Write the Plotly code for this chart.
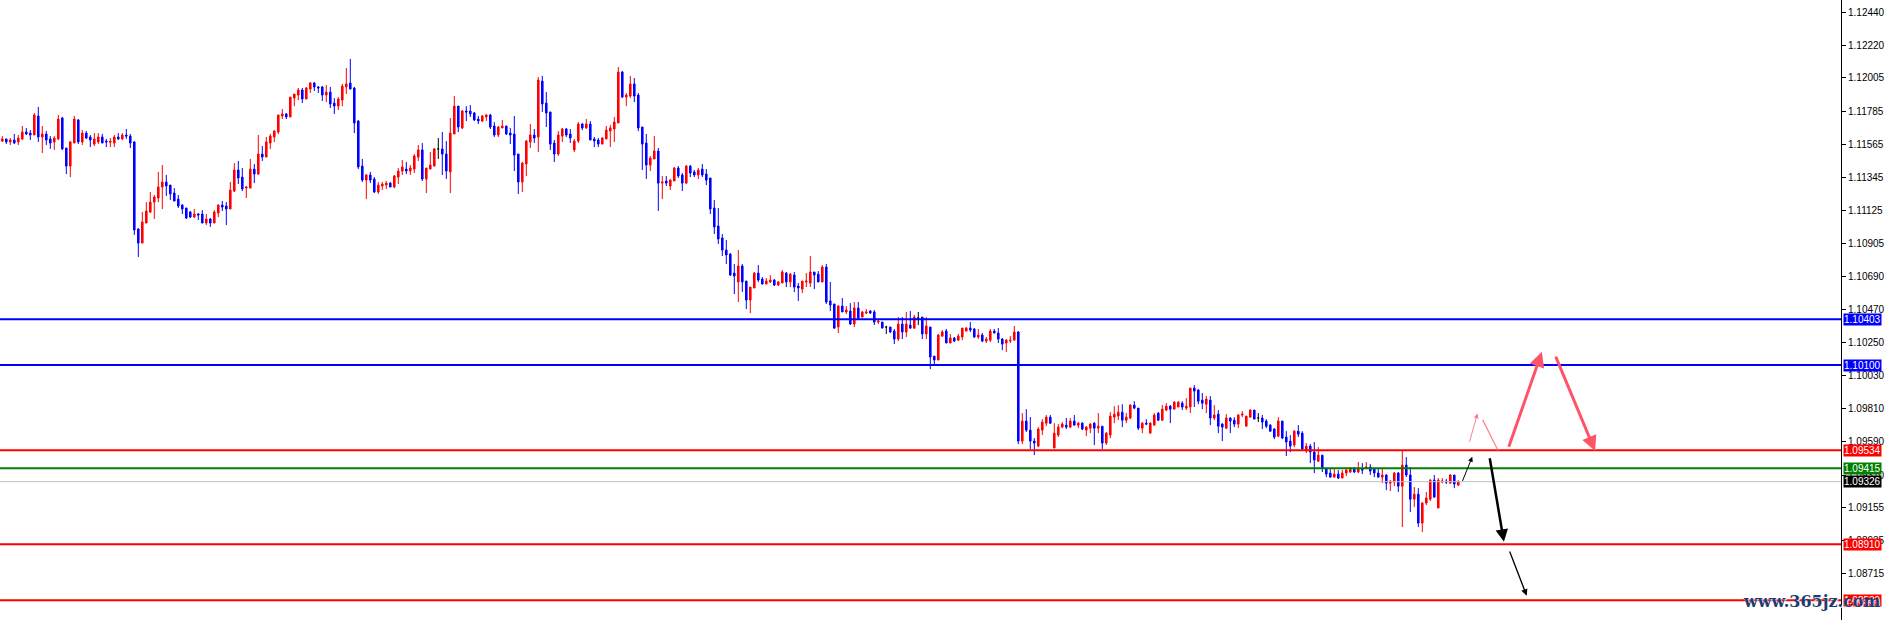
import plotly.graph_objects as go

# ---------------- data (EURUSD-like candles) ----------------
OPEN = [
1.11586,1.11600,1.11580,1.11593,1.11580,1.11600,1.11646,1.11639,1.11626,1.11752,
1.11613,1.11633,1.11600,1.11580,1.11600,1.11739,1.11540,1.11420,1.11573,1.11726,
1.11580,1.11639,1.11613,1.11566,1.11580,1.11613,1.11586,1.11578,1.11573,1.11613,
1.11600,1.11626,1.11619,1.11580,1.11002,1.10909,1.11042,1.11115,1.11181,1.11208,
1.11281,1.11314,1.11294,1.11241,1.11201,1.11161,1.11142,1.11115,1.11082,1.11102,
1.11102,1.11042,1.11069,1.11042,1.11108,1.11161,1.11155,1.11135,1.11254,1.11394,
1.11347,1.11274,1.11274,1.11400,1.11367,1.11500,1.11480,1.11573,1.11613,1.11646,
1.11752,1.11766,1.11746,1.11871,1.11891,1.11925,1.11865,1.11931,1.11971,1.11945,
1.11945,1.11891,1.11911,1.11838,1.11818,1.11858,1.11945,1.11971,1.11938,1.11719,
1.11420,1.11327,1.11361,1.11334,1.11248,1.11288,1.11294,1.11307,1.11281,1.11347,
1.11387,1.11400,1.11387,1.11400,1.11480,1.11527,1.11334,1.11400,1.11420,1.11534,
1.11534,1.11500,1.11381,1.11633,1.11818,1.11673,1.11785,1.11785,1.11772,1.11732,
1.11719,1.11746,1.11759,1.11686,1.11626,1.11673,1.11686,1.11639,1.11633,1.11500,
1.11314,1.11434,1.11580,1.11626,1.11613,1.11984,1.11838,1.11779,1.11573,1.11500,
1.11619,1.11666,1.11633,1.11527,1.11586,1.11699,1.11673,1.11699,1.11600,1.11593,
1.11566,1.11600,1.11652,1.11666,1.11706,1.12044,1.11878,1.11885,1.11965,1.11891,
1.11679,1.11573,1.11427,1.11467,1.11520,1.11307,1.11321,1.11288,1.11321,1.11407,
1.11361,1.11307,1.11420,1.11381,1.11361,1.11400,1.11367,1.11341,1.11142,1.11022,
1.10943,1.10863,1.10836,1.10710,1.10651,1.10757,1.10657,1.10531,1.10611,1.10710,
1.10670,1.10637,1.10651,1.10664,1.10631,1.10644,1.10710,1.10651,1.10697,1.10624,
1.10604,1.10651,1.10644,1.10717,1.10703,1.10651,1.10750,1.10525,1.10505,1.10352,
1.10491,1.10452,1.10458,1.10372,1.10478,1.10418,1.10445,1.10458,1.10452,1.10385,
1.10385,1.10352,1.10352,1.10325,1.10272,1.10372,1.10319,1.10365,1.10345,1.10412,
1.10418,1.10306,1.10352,1.10159,1.10133,1.10292,1.10325,1.10246,1.10279,1.10265,
1.10286,1.10325,1.10345,1.10339,1.10286,1.10299,1.10259,1.10265,1.10325,1.10312,
1.10272,1.10246,1.10259,1.10265,1.10319,1.09595,1.09728,1.09668,1.09595,1.09562,
1.09668,1.09714,1.09754,1.09549,1.09635,1.09688,1.09701,1.09688,1.09728,1.09701,
1.09714,1.09668,1.09681,1.09714,1.09681,1.09694,1.09582,1.09635,1.09754,1.09761,
1.09787,1.09734,1.09748,1.09834,1.09814,1.09681,1.09714,1.09648,1.09701,1.09781,
1.09734,1.09801,1.09827,1.09807,1.09821,1.09847,1.09814,1.09821,1.09947,1.09934,
1.09867,1.09840,1.09867,1.09748,1.09774,1.09708,1.09681,1.09748,1.09734,1.09708,
1.09768,1.09694,1.09754,1.09801,1.09748,1.09748,1.09728,1.09701,1.09675,1.09628,
1.09728,1.09622,1.09595,1.09569,1.09661,1.09648,1.09529,1.09562,1.09522,1.09462,
1.09502,1.09409,1.09383,1.09356,1.09376,1.09350,1.09383,1.09390,1.09409,1.09390,
1.09409,1.09416,1.09423,1.09409,1.09383,1.09356,1.09370,1.09316,1.09323,1.09383,
1.09296,1.09436,1.09370,1.09210,1.09243,1.09051,1.09184,1.09210,1.09336,1.09151,
1.09323,1.09330,1.09316,1.09370,1.09303,
]
HIGH = [
1.11619,1.11600,1.11606,1.11633,1.11626,1.11686,1.11673,1.11659,1.11772,1.11812,
1.11686,1.11652,1.11619,1.11619,1.11759,1.11746,1.11540,1.11586,1.11752,1.11732,
1.11659,1.11652,1.11626,1.11639,1.11639,1.11633,1.11600,1.11606,1.11626,1.11639,
1.11639,1.11666,1.11633,1.11586,1.11009,1.11115,1.11181,1.11248,1.11228,1.11381,
1.11427,1.11361,1.11294,1.11274,1.11228,1.11168,1.11142,1.11122,1.11135,1.11108,
1.11128,1.11102,1.11075,1.11128,1.11168,1.11188,1.11181,1.11314,1.11440,1.11454,
1.11407,1.11288,1.11467,1.11434,1.11626,1.11553,1.11613,1.11633,1.11659,1.11759,
1.11799,1.11772,1.11878,1.11898,1.11938,1.11938,1.11945,1.11978,1.11978,1.11951,
1.11951,1.11958,1.11945,1.11871,1.11878,1.11965,1.12071,1.12131,1.11945,1.11726,
1.11467,1.11367,1.11381,1.11347,1.11314,1.11314,1.11321,1.11314,1.11361,1.11407,
1.11460,1.11447,1.11427,1.11500,1.11560,1.11573,1.11407,1.11513,1.11540,1.11606,
1.11646,1.11586,1.11739,1.11885,1.11818,1.11792,1.11818,1.11825,1.11779,1.11752,
1.11759,1.11766,1.11766,1.11712,1.11686,1.11726,1.11686,1.11673,1.11752,1.11500,
1.11447,1.11593,1.11699,1.11666,1.12011,1.12018,1.11911,1.11779,1.11593,1.11652,
1.11673,1.11673,1.11666,1.11600,1.11712,1.11706,1.11732,1.11719,1.11613,1.11606,
1.11613,1.11686,1.11692,1.11746,1.12078,1.12051,1.11905,1.12018,1.12004,1.11905,
1.11679,1.11633,1.11487,1.11619,1.11540,1.11354,1.11354,1.11334,1.11414,1.11420,
1.11374,1.11427,1.11427,1.11394,1.11407,1.11434,1.11400,1.11341,1.11195,1.11142,
1.10969,1.10929,1.10843,1.10770,1.10863,1.10770,1.10657,1.10617,1.10717,1.10763,
1.10684,1.10677,1.10697,1.10670,1.10657,1.10730,1.10717,1.10710,1.10717,1.10644,
1.10657,1.10710,1.10823,1.10717,1.10723,1.10763,1.10770,1.10651,1.10505,1.10498,
1.10544,1.10491,1.10511,1.10518,1.10518,1.10458,1.10471,1.10465,1.10465,1.10405,
1.10385,1.10359,1.10352,1.10339,1.10418,1.10418,1.10452,1.10458,1.10432,1.10452,
1.10418,1.10418,1.10352,1.10159,1.10306,1.10332,1.10339,1.10306,1.10286,1.10306,
1.10345,1.10352,1.10385,1.10345,1.10339,1.10312,1.10286,1.10339,1.10339,1.10345,
1.10279,1.10272,1.10292,1.10359,1.10325,1.09781,1.09807,1.09754,1.09615,1.09688,
1.09741,1.09768,1.09768,1.09714,1.09708,1.09721,1.09748,1.09748,1.09768,1.09721,
1.09721,1.09694,1.09714,1.09721,1.09781,1.09694,1.09655,1.09787,1.09827,1.09834,
1.09840,1.09781,1.09840,1.09860,1.09814,1.09721,1.09741,1.09721,1.09781,1.09787,
1.09834,1.09847,1.09834,1.09860,1.09860,1.09860,1.09880,1.09947,1.09967,1.09940,
1.09914,1.09894,1.09894,1.09834,1.09801,1.09714,1.09774,1.09754,1.09754,1.09774,
1.09794,1.09761,1.09807,1.09801,1.09781,1.09768,1.09741,1.09708,1.09681,1.09754,
1.09728,1.09661,1.09635,1.09668,1.09701,1.09661,1.09582,1.09575,1.09589,1.09555,
1.09502,1.09416,1.09409,1.09409,1.09403,1.09403,1.09409,1.09423,1.09423,1.09456,
1.09449,1.09456,1.09442,1.09416,1.09409,1.09416,1.09376,1.09336,1.09390,1.09390,
1.09535,1.09489,1.09423,1.09290,1.09283,1.09190,1.09257,1.09343,1.09370,1.09350,
1.09350,1.09343,1.09376,1.09370,1.09336,
]
LOW = [
1.11580,1.11566,1.11560,1.11566,1.11560,1.11593,1.11626,1.11593,1.11626,1.11580,
1.11507,1.11560,1.11534,1.11527,1.11593,1.11527,1.11367,1.11347,1.11573,1.11566,
1.11560,1.11600,1.11546,1.11553,1.11566,1.11573,1.11546,1.11546,1.11546,1.11593,
1.11593,1.11600,1.11540,1.10963,1.10817,1.10909,1.11042,1.11108,1.11069,1.11181,
1.11135,1.11221,1.11195,1.11188,1.11142,1.11102,1.11069,1.11075,1.11075,1.11062,
1.11042,1.11029,1.11016,1.11042,1.11082,1.11122,1.11029,1.11135,1.11248,1.11301,
1.11254,1.11208,1.11274,1.11307,1.11361,1.11454,1.11480,1.11534,1.11580,1.11633,
1.11732,1.11732,1.11746,1.11818,1.11858,1.11838,1.11865,1.11905,1.11918,1.11905,
1.11852,1.11845,1.11805,1.11766,1.11792,1.11818,1.11898,1.11931,1.11639,1.11400,
1.11314,1.11201,1.11307,1.11241,1.11235,1.11261,1.11268,1.11281,1.11274,1.11301,
1.11361,1.11367,1.11361,1.11374,1.11454,1.11321,1.11241,1.11400,1.11420,1.11467,
1.11361,1.11334,1.11241,1.11633,1.11646,1.11666,1.11719,1.11746,1.11719,1.11699,
1.11712,1.11719,1.11666,1.11613,1.11613,1.11673,1.11626,1.11566,1.11387,1.11235,
1.11248,1.11354,1.11540,1.11573,1.11513,1.11779,1.11679,1.11527,1.11447,1.11487,
1.11580,1.11613,1.11573,1.11513,1.11573,1.11659,1.11666,1.11593,1.11546,1.11546,
1.11566,1.11600,1.11546,1.11580,1.11706,1.11871,1.11818,1.11871,1.11845,1.11652,
1.11394,1.11334,1.11387,1.11467,1.11122,1.11201,1.11288,1.11261,1.11321,1.11341,
1.11254,1.11301,1.11347,1.11347,1.11334,1.11347,1.11294,1.11102,1.10969,1.10903,
1.10823,1.10770,1.10690,1.10571,1.10518,1.10584,1.10471,1.10445,1.10611,1.10651,
1.10637,1.10637,1.10644,1.10624,1.10624,1.10644,1.10617,1.10617,1.10584,1.10525,
1.10577,1.10617,1.10617,1.10604,1.10651,1.10651,1.10505,1.10458,1.10339,1.10312,
1.10452,1.10438,1.10365,1.10352,1.10405,1.10418,1.10438,1.10438,1.10365,1.10372,
1.10345,1.10306,1.10312,1.10239,1.10259,1.10272,1.10286,1.10339,1.10339,1.10365,
1.10272,1.10272,1.10073,1.10106,1.10133,1.10286,1.10246,1.10246,1.10252,1.10259,
1.10265,1.10325,1.10319,1.10279,1.10272,1.10252,1.10246,1.10252,1.10312,1.10246,
1.10199,1.10186,1.10246,1.10265,1.09575,1.09575,1.09655,1.09542,1.09502,1.09555,
1.09635,1.09694,1.09708,1.09549,1.09622,1.09681,1.09675,1.09681,1.09701,1.09681,
1.09668,1.09628,1.09648,1.09569,1.09648,1.09542,1.09569,1.09615,1.09714,1.09734,
1.09688,1.09714,1.09741,1.09807,1.09668,1.09648,1.09701,1.09648,1.09701,1.09728,
1.09728,1.09794,1.09714,1.09807,1.09821,1.09801,1.09801,1.09781,1.09821,1.09840,
1.09807,1.09781,1.09701,1.09734,1.09648,1.09595,1.09675,1.09648,1.09688,1.09681,
1.09754,1.09694,1.09754,1.09741,1.09721,1.09675,1.09681,1.09655,1.09608,1.09622,
1.09608,1.09496,1.09522,1.09555,1.09622,1.09535,1.09516,1.09449,1.09383,1.09456,
1.09390,1.09356,1.09356,1.09356,1.09343,1.09350,1.09363,1.09383,1.09383,1.09383,
1.09376,1.09409,1.09370,1.09356,1.09356,1.09316,1.09270,1.09264,1.09296,1.09257,
1.09025,1.09356,1.09124,1.09157,1.09025,1.08991,1.09171,1.09197,1.09223,1.09151,
1.09316,1.09310,1.09316,1.09283,1.09296,
]
CLOSE = [
1.11600,1.11580,1.11593,1.11573,1.11606,1.11646,1.11633,1.11626,1.11759,1.11613,
1.11633,1.11593,1.11573,1.11606,1.11732,1.11534,1.11420,1.11580,1.11732,1.11580,
1.11639,1.11606,1.11593,1.11600,1.11613,1.11573,1.11580,1.11584,1.11613,1.11600,
1.11626,1.11619,1.11573,1.10996,1.10909,1.11049,1.11122,1.11181,1.11215,1.11281,
1.11314,1.11288,1.11235,1.11188,1.11155,1.11135,1.11075,1.11082,1.11102,1.11095,
1.11042,1.11069,1.11042,1.11115,1.11161,1.11148,1.11135,1.11261,1.11394,1.11341,
1.11268,1.11281,1.11400,1.11367,1.11500,1.11480,1.11580,1.11619,1.11652,1.11759,
1.11766,1.11746,1.11878,1.11898,1.11925,1.11865,1.11938,1.11971,1.11945,1.11938,
1.11891,1.11911,1.11832,1.11818,1.11865,1.11951,1.11965,1.11931,1.11706,1.11414,
1.11327,1.11361,1.11327,1.11248,1.11294,1.11301,1.11307,1.11281,1.11354,1.11387,
1.11414,1.11387,1.11407,1.11487,1.11527,1.11334,1.11407,1.11427,1.11534,1.11534,
1.11500,1.11387,1.11639,1.11818,1.11679,1.11785,1.11779,1.11766,1.11726,1.11719,
1.11752,1.11759,1.11679,1.11626,1.11679,1.11686,1.11633,1.11626,1.11493,1.11314,
1.11440,1.11586,1.11626,1.11606,1.11991,1.11832,1.11772,1.11566,1.11500,1.11626,
1.11666,1.11626,1.11606,1.11586,1.11699,1.11673,1.11699,1.11593,1.11586,1.11566,
1.11606,1.11659,1.11673,1.11712,1.12044,1.11878,1.11891,1.11965,1.11885,1.11673,
1.11566,1.11427,1.11473,1.11520,1.11307,1.11314,1.11307,1.11327,1.11407,1.11354,
1.11307,1.11420,1.11374,1.11361,1.11394,1.11361,1.11327,1.11135,1.11016,1.10936,
1.10863,1.10830,1.10697,1.10690,1.10757,1.10651,1.10531,1.10617,1.10710,1.10664,
1.10637,1.10657,1.10664,1.10631,1.10651,1.10717,1.10651,1.10703,1.10617,1.10611,
1.10657,1.10657,1.10717,1.10697,1.10651,1.10750,1.10518,1.10498,1.10345,1.10491,
1.10452,1.10465,1.10372,1.10478,1.10412,1.10452,1.10452,1.10445,1.10385,1.10392,
1.10345,1.10352,1.10319,1.10272,1.10372,1.10319,1.10372,1.10345,1.10418,1.10412,
1.10306,1.10359,1.10153,1.10133,1.10299,1.10319,1.10246,1.10279,1.10259,1.10292,
1.10345,1.10345,1.10332,1.10286,1.10299,1.10259,1.10272,1.10325,1.10312,1.10272,
1.10239,1.10265,1.10265,1.10319,1.09595,1.09728,1.09668,1.09595,1.09582,1.09675,
1.09721,1.09754,1.09714,1.09648,1.09688,1.09708,1.09688,1.09728,1.09701,1.09714,
1.09675,1.09688,1.09708,1.09681,1.09694,1.09582,1.09648,1.09761,1.09774,1.09787,
1.09734,1.09754,1.09834,1.09814,1.09681,1.09714,1.09708,1.09714,1.09768,1.09734,
1.09807,1.09827,1.09807,1.09854,1.09854,1.09821,1.09827,1.09947,1.09927,1.09860,
1.09847,1.09874,1.09748,1.09768,1.09694,1.09688,1.09748,1.09728,1.09708,1.09768,
1.09774,1.09761,1.09801,1.09741,1.09748,1.09721,1.09694,1.09661,1.09622,1.09728,
1.09615,1.09589,1.09562,1.09661,1.09641,1.09542,1.09562,1.09522,1.09469,1.09502,
1.09416,1.09376,1.09356,1.09376,1.09350,1.09383,1.09403,1.09409,1.09390,1.09416,
1.09403,1.09423,1.09396,1.09383,1.09356,1.09370,1.09316,1.09330,1.09383,1.09296,
1.09436,1.09370,1.09210,1.09243,1.09051,1.09184,1.09217,1.09336,1.09223,1.09336,
1.09330,1.09323,1.09370,1.09310,1.09326,
]

# right-axis tick labels (MT4 style, irregular steps)
TICK_VALUES = [1.12440, 1.12220, 1.12005, 1.11785, 1.11565, 1.11345, 1.11125, 1.10905,
               1.10690, 1.10470, 1.10250, 1.10030, 1.09810, 1.09590, 1.09370, 1.09155,
               1.08935, 1.08715]
TICK_LABELS = ["%.5f" % v for v in TICK_VALUES]

# horizontal levels: price, colour, width
LEVEL_PRICES = [1.10403, 1.10100, 1.09534, 1.09415, 1.09326, 1.08910, 1.08539]
LEVEL_COLORS = ["#0000FF", "#0000FF", "#FF0000", "#008000", "#C0C0C0", "#FF0000", "#FF0000"]
LEVEL_WIDTHS = [2, 2, 2, 2, 1, 2, 2]
LABEL_BG = ["#0000FF", "#0000FF", "#FF0000", "#008000", "#000000", "#FF0000", "#FF0000"]

# projected path arrows: (tail bar, tail price, head bar, head price, colour, width, head)
ARROWS = [
    (364.9, 1.09321, 367.5, 1.09491, "#000000", 1.0, 2),
    (366.7, 1.09580, 368.8, 1.09779, "rgba(255,84,104,0.75)", 1.0, 2),
    (369.9, 1.09746, 374.0, 1.09529, "rgba(255,84,104,0.75)", 1.2, 0),
    (376.5, 1.09547, 384.9, 1.10188, "#FF5468", 3.0, 2),
    (388.2, 1.10166, 398.2, 1.09529, "#FF5468", 3.0, 2),
    (371.8, 1.09491, 375.4, 1.08927, "#000000", 2.5, 2),
    (376.7, 1.08872, 381.1, 1.08569, "#000000", 1.3, 2),
]

Y_RANGE = [1.08408, 1.12522]
X_RANGE = [-0.575, 459.675]

# ---------------- figure ----------------
n = min(len(OPEN), len(HIGH), len(LOW), len(CLOSE))
xs = list(range(n))
hi = [max(HIGH[i], OPEN[i], CLOSE[i]) for i in range(n)]
lo = [min(LOW[i], OPEN[i], CLOSE[i]) for i in range(n)]

norm = [i for i in range(n) if OPEN[i] != CLOSE[i]]
doji = [i for i in range(n) if OPEN[i] == CLOSE[i]]

fig = go.Figure()
fig.add_trace(go.Candlestick(
    x=[xs[i] for i in norm],
    open=[OPEN[i] for i in norm], high=[hi[i] for i in norm],
    low=[lo[i] for i in norm], close=[CLOSE[i] for i in norm],
    increasing=dict(line=dict(color="#FF0000", width=1), fillcolor="#FF0000"),
    decreasing=dict(line=dict(color="#0000FF", width=1), fillcolor="#0000FF"),
    whiskerwidth=0, hoverinfo="skip", showlegend=False,
))
fig.add_trace(go.Candlestick(
    x=[xs[i] for i in doji],
    open=[OPEN[i] for i in doji], high=[hi[i] for i in doji],
    low=[lo[i] for i in doji], close=[CLOSE[i] for i in doji],
    increasing=dict(line=dict(color="#000000", width=1), fillcolor="#000000"),
    decreasing=dict(line=dict(color="#000000", width=1), fillcolor="#000000"),
    whiskerwidth=0, hoverinfo="skip", showlegend=False,
))

shapes = []
for p, c, w in zip(LEVEL_PRICES, LEVEL_COLORS, LEVEL_WIDTHS):
    shapes.append(dict(type="line", xref="paper", x0=0, x1=1, yref="y", y0=p, y1=p,
                       line=dict(color=c, width=w), layer="above"))

annotations = []
for p, bg in zip(LEVEL_PRICES, LABEL_BG):
    annotations.append(dict(xref="paper", x=1, xanchor="left", xshift=2,
                            yref="y", y=p, yanchor="middle",
                            text="%.5f" % p, showarrow=False, bgcolor=bg,
                            borderpad=0,
                            font=dict(family="Liberation Sans, Arial", size=10, color="#FFFFFF")))

for (tx, ty, hx, hy, col, w, head) in ARROWS:
    annotations.append(dict(x=hx, y=hy, xref="x", yref="y",
                            ax=tx, ay=ty, axref="x", ayref="y",
                            showarrow=True, arrowhead=head, arrowsize=1.0,
                            arrowwidth=w, arrowcolor=col, standoff=0, startstandoff=0,
                            text=""))

annotations.append(dict(xref="paper", yref="paper", x=1, y=0, xanchor="right",
                        yanchor="bottom", xshift=42, yshift=7,
                        text="<b>www.365jz.com</b>", showarrow=False,
                        font=dict(family="DejaVu Serif", size=16, color="#1E3C6E",
                                  shadow="1px 1px 1px #FFFFFF")))

fig.update_layout(
    width=1889, height=620,
    margin=dict(l=0, r=48, t=0, b=0, pad=0),
    paper_bgcolor="#FFFFFF", plot_bgcolor="#FFFFFF",
    showlegend=False, boxgap=0.45,
    shapes=shapes, annotations=annotations,
    xaxis=dict(range=X_RANGE, showticklabels=False, showgrid=False, zeroline=False,
               showline=False, ticks="", rangeslider=dict(visible=False), fixedrange=True),
    yaxis=dict(range=Y_RANGE, side="right", tickvals=TICK_VALUES, ticktext=TICK_LABELS,
               showgrid=False, zeroline=False, showline=True, linecolor="#000000",
               linewidth=1, ticks="outside", ticklen=4, tickcolor="#000000",
               tickfont=dict(family="Liberation Sans, Arial", size=10, color="#000000"),
               fixedrange=True),
    font=dict(family="Liberation Sans, Arial"),
)

fig.write_html("out.html", config={"displayModeBar": False},
               post_script="document.body.style.margin='0';document.body.style.overflow='hidden';")
